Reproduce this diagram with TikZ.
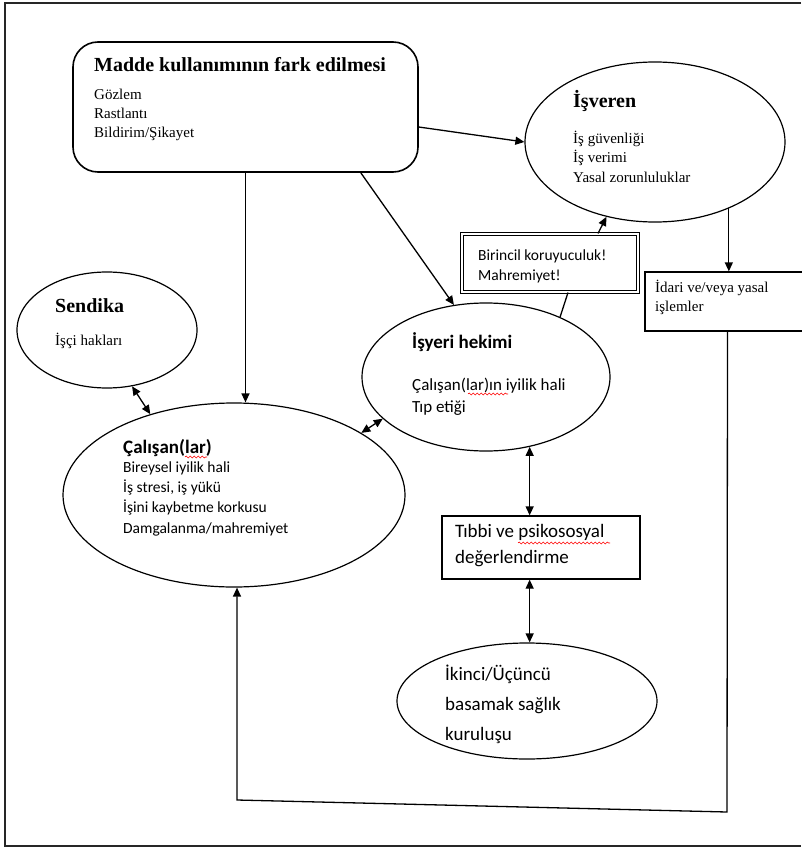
\documentclass[tikz,border=0pt]{standalone}
\usepackage{fontspec}
\setmainfont{Liberation Serif}
\newfontfamily\calfont{Carlito}
\usetikzlibrary{shapes.geometric,arrows.meta,decorations.pathmorphing}
\newcommand\fTitle{\fontsize{20}{24}\selectfont\bfseries}
\newcommand\fSer{\fontsize{15}{18}\selectfont}
\newcommand\fSansB{\calfont\fontsize{19}{22}\selectfont\bfseries}
\newcommand\fSans{\calfont\fontsize{15.5}{18}\selectfont}
\newcommand\fSansM{\calfont\fontsize{17}{20}\selectfont}
\newcommand\fSansL{\calfont\fontsize{19}{22}\selectfont}
\begin{document}
\begin{tikzpicture}[x=1pt,y=-1pt,
  frame/.style={line width=1.6pt, draw=black!85},
  conn/.style={line width=1.3pt, draw=black},
  tip/.style={-{Triangle[length=9pt,width=8pt]}},
  both/.style={{Triangle[length=9pt,width=8pt]}-{Triangle[length=9pt,width=8pt]}},
  ell/.style={ellipse, draw, line width=1.2pt, inner sep=0pt},
  rbox/.style={rectangle, rounded corners=25pt, draw, line width=1.6pt, inner sep=0pt},
  box/.style={rectangle, draw, line width=1.3pt, inner sep=0pt},
  dbox/.style={rectangle, draw, double, double distance=2pt, line width=1.1pt, inner sep=0pt},
  txt/.style={anchor=base west, inner sep=0pt},
  wavy/.style={draw=red, line width=0.6pt, decorate, decoration={snake, amplitude=1pt, segment length=4pt}}
]
\useasboundingbox (0,0) rectangle (801,848);
\draw[frame] (801,3) -- (5,3) -- (5,846) -- (801,846);

% shapes
\node[rbox, minimum width=345pt, minimum height=130pt] (madde) at (245.5,107) {};
\node[ell, minimum width=260pt, minimum height=160pt] (isveren) at (655,142) {};
\node[dbox, minimum width=176pt, minimum height=58pt] (birincil) at (550,263) {};
\node[box, minimum width=165pt, minimum height=59pt] (idari) at (727.5,301.5) {};
\node[ell, minimum width=180pt, minimum height=116pt] (sendika) at (107,330) {};
\node[ell, minimum width=342pt, minimum height=184pt] (calisan) at (234,495) {};
\node[ell, minimum width=248pt, minimum height=148pt] (hekimi) at (486,377) {};
\node[box, minimum width=198pt, minimum height=63pt] (tibbi) at (541,547.5) {};
\node[ell, minimum width=260pt, minimum height=116pt] (ikinci) at (527,701) {};

% texts
\node[txt, font=\fTitle] (tm0) at (94,72) {Madde kullanımının fark edilmesi};
\node[txt, font=\fSer] (tm1) at (94,100) {Gözlem};
\node[txt, font=\fSer] (tm2) at (94,119) {Rastlantı};
\node[txt, font=\fSer] (tm3) at (94,138) {Bildirim/Şikayet};

\node[txt, font=\fTitle] (ti0) at (573,108) {İşveren};
\node[txt, font=\fSer] (ti1) at (573,143) {İş güvenliği};
\node[txt, font=\fSer] (ti2) at (573,162) {İş verimi};
\node[txt, font=\fSer] (ti3) at (573,182) {Yasal zorunluluklar};

\node[txt, font=\fSans] (tb1) at (478,260) {Birincil koruyuculuk!};
\node[txt, font=\fSans] (tb2) at (478,280) {Mahremiyet!};

\node[txt, font=\fSer] (td1) at (655,292) {İdari ve/veya yasal};
\node[txt, font=\fSer] (td2) at (655,311) {işlemler};

\node[txt, font=\fTitle] (ts0) at (55,312) {Sendika};
\node[txt, font=\fSer] (ts1) at (55,345) {İşçi hakları};

\node[txt, font=\fSansB] (tc0) at (123,453) {Çalışan(lar)};
\node[txt, font=\fSans] (tc1) at (123,472) {Bireysel iyilik hali};
\node[txt, font=\fSans] (tc2) at (123,492) {İş stresi, iş yükü};
\node[txt, font=\fSans] (tc3) at (123,512) {İşini kaybetme korkusu};
\node[txt, font=\fSans] (tc4) at (123,533) {Damgalanma/mahremiyet};

\node[txt, font=\fSansB] (th0) at (412,348) {İşyeri hekimi};
\node[txt, font=\fSansM] (th1) at (412,390) {Çalışan(lar)ın iyilik hali};
\node[txt, font=\fSansM] (th2) at (412,412) {Tıp etiği};

\node[txt, font=\fSansL] (tt1) at (455,537) {Tıbbi ve psikososyal};
\node[txt, font=\fSansL] (tt2) at (455,563) {değerlendirme};

\node[txt, font=\fSansL] (tk1) at (445,680) {İkinci/Üçüncü};
\node[txt, font=\fSansL] (tk2) at (445,710) {basamak sağlık};
\node[txt, font=\fSansL] (tk3) at (445,740) {kuruluşu};

% spelling underlines
\coordinate (w1a) at (185,457); \coordinate (w1b) at (207,457);
\coordinate (w2a) at (468,394); \coordinate (w2b) at (508,394);
\coordinate (w3a) at (518,543); \coordinate (w3b) at (610,543);
\draw[wavy] (w1a) -- (w1b);
\draw[wavy] (w2a) -- (w2b);
\draw[wavy] (w3a) -- (w3b);

% connectors
\draw[conn,tip] ([yshift=-20pt]madde.east) -- (isveren.west);
\draw[conn,tip] (madde.south) -- (madde.south |- calisan.north);
\draw[conn,tip] ([xshift=-58pt]madde.south east) -- (hekimi.114);
\draw[conn,tip] (isveren.-42) -- (isveren.-42 |- idari.north);
\draw[conn,tip] ([xshift=48pt]birincil.north) -- (isveren.-123);
\draw[conn] ([xshift=18pt]birincil.south) -- (hekimi.39);
\draw[conn,both] (sendika.-66) -- (calisan.136);
\draw[conn,both] (calisan.26) -- (hekimi.202);
\draw[conn,both] (hekimi.-58) -- (hekimi.-58 |- tibbi.north);
\draw[conn,both] (hekimi.-58 |- tibbi.south) -- (hekimi.-58 |- ikinci.north);
\coordinate (fbR) at (727,812);
\coordinate (fbL) at (237,800);
\draw[conn,tip] (idari.south) -- (fbR) -- (fbL) -- (fbL |- calisan.south);
\end{tikzpicture}
\end{document}
